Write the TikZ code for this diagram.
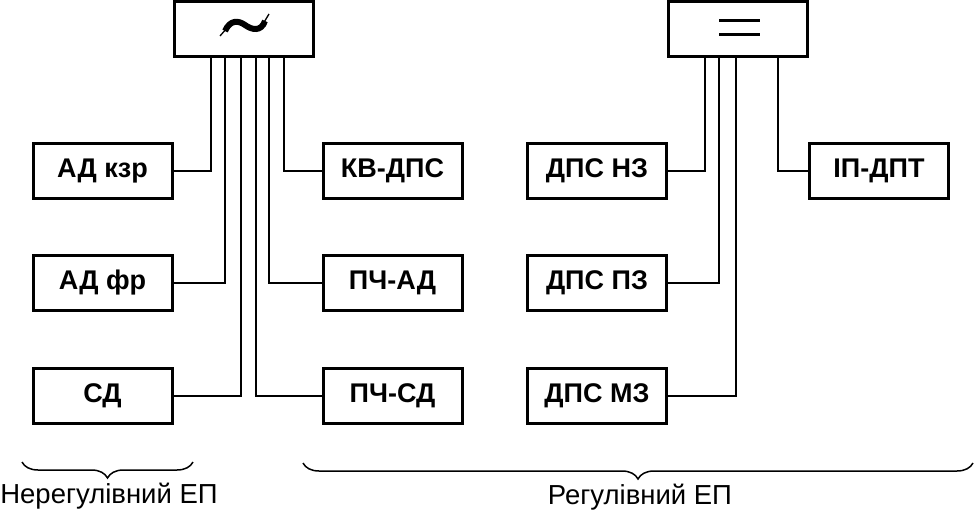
\documentclass[tikz,border=0pt]{standalone}
\usepackage{fontspec}
\setmainfont{Liberation Sans}
\usetikzlibrary{decorations.pathreplacing}
\begin{document}
\begin{tikzpicture}[x=1pt,y=-1pt,
  blk/.style={draw=black,line width=3pt,minimum width=139pt,minimum height=55pt,
    inner sep=0pt,font=\fontsize{27}{30}\selectfont\bfseries},
  src/.style={draw=black,line width=3pt,minimum width=139pt,minimum height=55pt,inner sep=0pt},
  wire/.style={line width=2pt},
  brc/.style={line width=1.5pt,decorate,decoration={brace,mirror,amplitude=16pt}},
  lbl/.style={font=\fontsize{27.5}{30}\selectfont}]
\useasboundingbox (0,0) rectangle (975,513);
% sources
\node[src] (ac) at (244,29) {};
\node[src] (dc) at (737.5,29) {};
% tilde symbol
\draw[line width=6pt] (225,31) .. controls (230,20) and (238,20) .. (245,25)
   .. controls (252,30) and (261,32) .. (265,21);
\draw[line width=1.3pt] (220,36) -- (227,28);
\draw[line width=1.3pt] (263,24) -- (269,14);
% equal symbol
\draw[line width=3pt] (719,21) -- (760,21);
\draw[line width=3pt] (719,35) -- (760,35);
% blocks
\node[blk] (adkzr) at (102.5,171) {АД кзр};
\node[blk] (adfr)  at (102.5,283) {АД фр};
\node[blk] (sd)    at (102.5,396) {СД};
\node[blk] (kv)    at (392.5,171) {КВ-ДПС};
\node[blk] (pchad) at (392.5,283) {ПЧ-АД};
\node[blk] (pchsd) at (392.5,396) {ПЧ-СД};
\node[blk] (nz)    at (597,171) {ДПС НЗ};
\node[blk] (pz)    at (597,283) {ДПС ПЗ};
\node[blk] (mz)    at (597,396) {ДПС МЗ};
\node[blk] (ip)    at (879,171) {ІП-ДПТ};
% wires AC
\draw[wire] (adkzr.east) -| ([xshift=-33pt]ac.south);
\draw[wire] (adfr.east)  -| ([xshift=-19pt]ac.south);
\draw[wire] (sd.east)    -| ([xshift=-3pt]ac.south);
\draw[wire] (pchsd.west) -| ([xshift=12pt]ac.south);
\draw[wire] (pchad.west) -| ([xshift=25pt]ac.south);
\draw[wire] (kv.west)    -| ([xshift=40pt]ac.south);
% wires DC
\draw[wire] (nz.east) -| ([xshift=-32.5pt]dc.south);
\draw[wire] (pz.east) -| ([xshift=-18.5pt]dc.south);
\draw[wire] (mz.east) -| ([xshift=-1.5pt]dc.south);
\draw[wire] (ip.west) -| ([xshift=40.5pt]dc.south);
% braces
\coordinate (b1a) at (22,462);
\coordinate (b1b) at (193,462);
\coordinate (b2a) at (303,463);
\coordinate (b2b) at (973,463);
\draw[brc] (b1a) -- (b1b);
\draw[brc] (b2a) -- (b2b);
\node[lbl] (l1) at (109,496) {Нерегулівний ЕП};
\node[lbl] (l2) at (640,497) {Регулівний ЕП};
\end{tikzpicture}
\end{document}
